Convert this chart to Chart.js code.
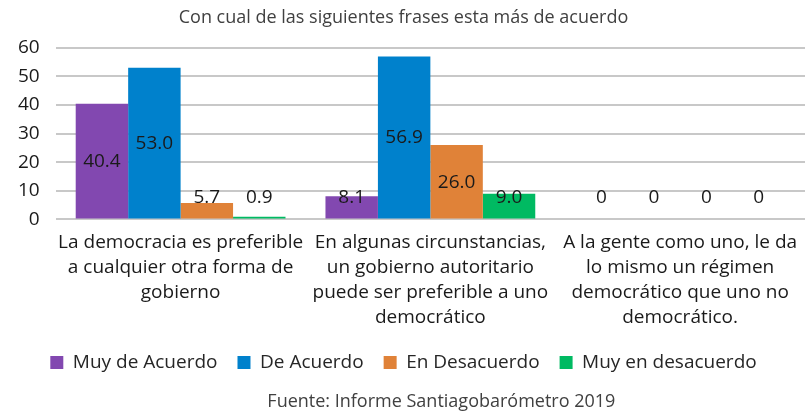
<!DOCTYPE html>
<html>
<head>
<meta charset="utf-8">
<script src="https://cdn.jsdelivr.net/npm/chart.js@4"></script>
<style>
  html, body { margin: 0; padding: 0; background: #fff; }
  #wrap { width: 807px; height: 412px; }
</style>
</head>
<body>
<div id="wrap"><canvas id="chart"></canvas></div>
<script>
const categories = [
    ['La democracia es preferible', 'a cualquier otra forma de', 'gobierno'],
    ['En algunas circunstancias,', 'un gobierno autoritario', 'puede ser preferible a uno', 'democrático'],
    ['A la gente como uno, le da', 'lo mismo un régimen', 'democrático que uno no', 'democrático.']
];
const muyDeAcuerdo = [40.4, 8.1, 0];
const deAcuerdo = [53.0, 56.9, 0];
const enDesacuerdo = [5.7, 26.0, 0];
const muyEnDesacuerdo = [0.9, 9.0, 0];
const yTicks = [0, 10, 20, 30, 40, 50, 60];
const source = 'Fuente: Informe Santiagobarómetro 2019';

const FONT = '"Open Sans", Lato, sans-serif';

// value labels: centred in tall bars, sitting just above the baseline otherwise
const valueLabels = {
    id: 'valueLabels',
    afterDatasetsDraw(chart) {
        const ctx = chart.ctx;
        const base = chart.scales.y.getPixelForValue(0);
        ctx.save();
        ctx.font = '19px ' + FONT;
        ctx.fillStyle = '#1a1a1a';
        ctx.textAlign = 'center';
        ctx.textBaseline = 'middle';
        chart.data.datasets.forEach((ds, i) => {
            chart.getDatasetMeta(i).data.forEach((bar, j) => {
                const v = ds.data[j];
                const mid = (bar.y + base) / 2;
                const y = Math.min(mid, base - 22);
                ctx.fillText(v === 0 ? '0' : v.toFixed(1), bar.x, y);
            });
        });
        ctx.restore();
    }
};

// source line under the legend, a little right of the plot centre
const sourceNote = {
    id: 'sourceNote',
    afterDraw(chart) {
        const ctx = chart.ctx;
        const area = chart.chartArea;
        ctx.save();
        ctx.font = '18px ' + FONT;
        ctx.fillStyle = '#404040';
        ctx.textAlign = 'center';
        ctx.textBaseline = 'middle';
        ctx.fillText(source, (area.left + area.right) / 2 + 11, chart.height - 10);
        ctx.restore();
    }
};

const data = {
    labels: categories,
    datasets: [
        { label: 'Muy de Acuerdo', data: muyDeAcuerdo, backgroundColor: '#8248B0' },
        { label: 'De Acuerdo', data: deAcuerdo, backgroundColor: '#0081CC' },
        { label: 'En Desacuerdo', data: enDesacuerdo, backgroundColor: '#E08238' },
        { label: 'Muy en desacuerdo', data: muyEnDesacuerdo, backgroundColor: '#00BA62' }
    ]
};

const config = {
    type: 'bar',
    data: data,
    options: {
        responsive: true,
        maintainAspectRatio: false,
        animation: false,
        categoryPercentage: 0.84,
        barPercentage: 1.0,
        layout: { padding: { left: 2, right: 2, top: 0, bottom: 30 } },
        plugins: {
            title: {
                display: true,
                text: 'Con cual de las siguientes frases esta más de acuerdo',
                color: '#404040',
                font: { family: FONT, size: 18, weight: 'normal' },
                padding: { top: 7, bottom: 19 }
            },
            legend: {
                position: 'bottom',
                labels: {
                    color: '#262626',
                    font: { family: FONT, size: 19 },
                    boxWidth: 13,
                    boxHeight: 13,
                    padding: 20
                }
            },
            tooltip: { enabled: false }
        },
        scales: {
            x: {
                grid: { display: false },
                border: { display: false },
                ticks: {
                    color: '#1a1a1a',
                    font: { family: FONT, size: 19, lineHeight: 1.31 },
                    maxRotation: 0,
                    autoSkip: false,
                    padding: 3
                }
            },
            y: {
                min: 0,
                max: 60,
                afterBuildTicks(axis) {
                    axis.ticks = yTicks.map(v => ({ value: v }));
                },
                grid: { color: '#c8c8c8', lineWidth: 2, drawTicks: false },
                border: { display: false },
                ticks: {
                    color: '#1a1a1a',
                    font: { family: FONT, size: 19 },
                    padding: 16
                }
            }
        }
    },
    plugins: [valueLabels, sourceNote]
};

new Chart(document.getElementById('chart').getContext('2d'), config);
</script>
</body>
</html>
